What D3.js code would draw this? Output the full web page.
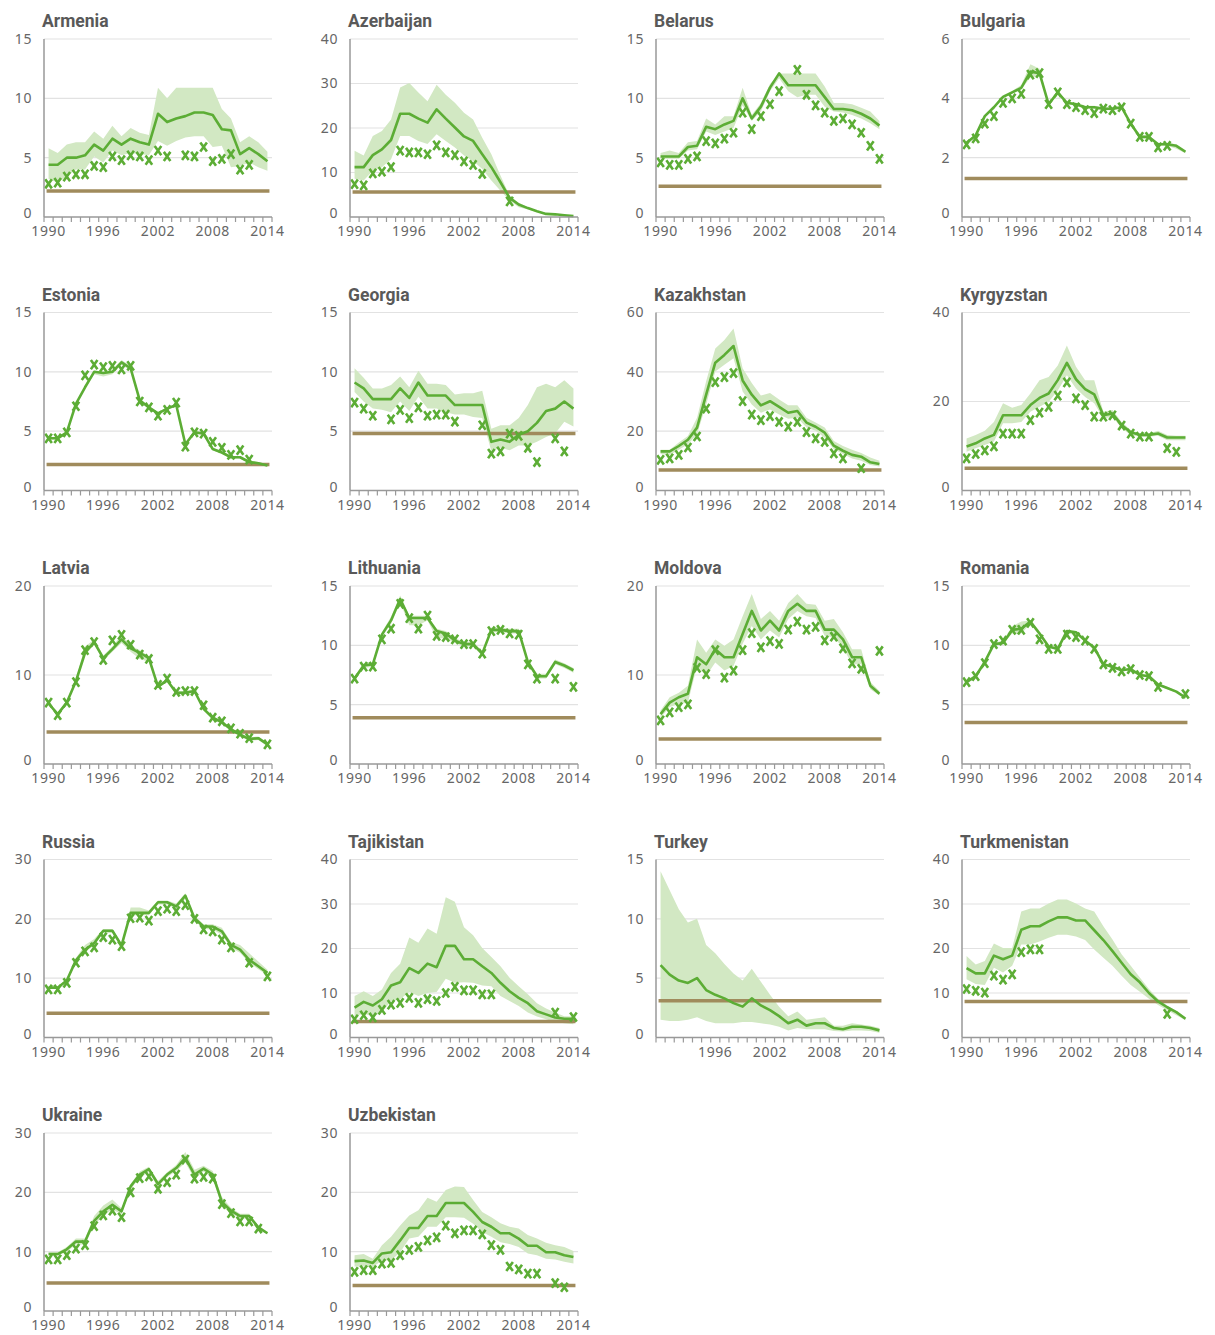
<!DOCTYPE html>
<html lang='en'>
  <head>
    <meta charset='utf-8'>
    <style type='text/css'>
      body {margin: 0; background-color: #fff;}
      #chart {width: 1215px; height: 1335px;}
      .title {font-family: Roboto, 'Noto Sans', sans-serif; font-weight: 700; font-size: 17.5px; fill: #595959;}
      .tick {font-family: 'Noto Sans', sans-serif; font-size: 14px; fill: #666; letter-spacing: 0.6px;}
    </style>
  </head>
  <body>

    <div id='chart'>
      <svg width='1215' height='1335'></svg>
    </div>

    <script src='https://d3js.org/d3.v7.min.js'></script>
    <script type='text/javascript'>
        // years on the x axis, 1990..2014
        var years = [1990,1991,1992,1993,1994,1995,1996,1997,1998,1999,2000,2001,2002,2003,2004,2005,2006,2007,2008,2009,2010,2011,2012,2013,2014];
        var xLabels = [1990, 1996, 2002, 2008, 2014];

        var countries = ["Armenia","Azerbaijan","Belarus","Bulgaria","Estonia","Georgia","Kazakhstan","Kyrgyzstan","Latvia","Lithuania","Moldova","Romania","Russia","Tajikistan","Turkey","Turkmenistan","Ukraine","Uzbekistan"];
        var targets   = [2.2, 5.6, 2.6, 1.3, 2.2, 4.8, 6.9, 5.0, 3.6, 3.9, 2.8, 3.5, 4.1, 3.6, 3.1, 8.1, 4.7, 4.3];
        var yMax      = [15, 40, 15, 6, 15, 15, 60, 40, 20, 15, 20, 15, 30, 40, 15, 40, 30, 30];
        var yStep     = [5, 10, 5, 2, 5, 5, 20, 20, 10, 5, 10, 5, 10, 10, 5, 10, 10, 10];

        // estimate, lower bound, upper bound, reported values
        var armeniaEst = [4.4,4.4,5.0,5.0,5.2,6.1,5.6,6.6,6.1,6.6,6.3,6.1,8.7,8.0,8.3,8.5,8.8,8.8,8.6,7.4,7.3,5.3,5.8,5.3,4.7];
        var armeniaLo  = [3.2,2.9,3.4,4.0,4.0,5.1,4.6,5.6,5.2,5.4,5.3,5.2,6.4,6.0,6.4,6.7,6.8,6.8,5.9,6.0,4.2,4.3,4.6,4.2,3.9];
        var armeniaHi  = [5.8,5.4,6.1,6.3,6.3,7.2,6.6,7.7,6.8,7.5,7.1,6.9,10.9,10.0,10.9,10.9,10.9,10.9,10.9,9.1,8.3,6.3,6.8,6.3,5.5];
        var armeniaObs = [2.8,2.9,3.4,3.6,3.6,4.3,4.2,5.1,4.8,5.2,5.1,4.8,5.6,5.1,null,5.2,5.1,5.9,4.7,4.9,5.3,4.0,4.4,null,null];

        var azerbaijanEst = [11.2,11.2,13.9,15.2,17.3,23.2,23.2,22.1,21.2,24.2,22.1,20.1,18.1,17.1,14.1,11.2,7.8,4.3,2.8,2.0,1.3,0.7,0.6,0.4,0.2];
        var azerbaijanLo  = [8.6,8.2,10.4,11.2,13.0,18.2,18.2,17.1,16.4,18.6,17.1,15.6,13.8,12.6,10.8,8.2,5.9,3.7,2.2,1.7,1.1,0.6,0.4,0.2,0.1];
        var azerbaijanHi  = [14.9,13.8,18.2,19.3,21.9,29.1,30.1,28.0,26.0,29.7,27.5,25.7,23.4,21.9,17.8,14.1,9.3,4.8,3.2,2.2,1.4,0.9,0.7,0.4,0.3];
        var azerbaijanObs = [7.4,7.1,9.8,10.2,11.2,14.9,14.5,14.5,14.1,16.1,14.5,13.9,12.5,11.7,9.7,null,null,3.5,null,null,null,null,null,null,null];

        var belarusEst = [5.1,5.1,5.1,5.9,6.0,7.6,7.4,7.8,8.1,10.0,8.3,9.3,10.9,12.1,11.1,11.1,11.1,11.1,10.1,9.1,9.1,9.0,8.7,8.3,7.7];
        var belarusLo  = [4.9,4.9,4.9,5.6,5.7,7.2,6.9,7.2,7.5,9.4,8.1,8.9,10.6,11.7,10.6,10.1,10.3,10.3,9.3,8.9,8.8,8.6,8.3,7.9,7.4];
        var belarusHi  = [5.4,5.6,5.4,6.3,6.4,8.3,7.8,8.5,8.5,10.9,8.6,9.6,11.2,12.1,12.1,12.1,12.1,12.1,11.0,9.6,9.6,9.5,9.2,8.9,8.1];
        var belarusObs = [4.6,4.4,4.4,4.9,5.1,6.4,6.2,6.6,7.1,8.8,7.4,8.5,9.5,10.6,null,12.4,10.3,9.4,8.8,8.1,8.3,7.8,7.1,6.0,4.9];

        var bulgariaEst = [2.5,2.75,3.4,3.7,4.05,4.2,4.35,4.9,4.85,3.8,4.2,3.85,3.8,3.7,3.7,3.65,3.65,3.7,3.15,2.7,2.7,2.45,2.45,2.4,2.2];
        var bulgariaLo  = [2.45,2.7,3.35,3.65,4.0,4.15,4.3,4.7,4.75,3.75,4.15,3.8,3.75,3.65,3.65,3.6,3.6,3.65,3.1,2.65,2.65,2.4,2.4,2.3,2.15];
        var bulgariaHi  = [2.55,2.8,3.45,3.75,4.1,4.25,4.45,5.15,5.0,3.85,4.25,3.9,3.85,3.75,3.75,3.7,3.7,3.75,3.2,2.75,2.75,2.5,2.5,2.45,2.25];
        var bulgariaObs = [2.45,2.65,3.15,3.4,3.85,4.0,4.15,4.8,4.85,3.8,4.2,3.8,3.7,3.6,3.5,3.65,3.6,3.7,3.15,2.7,2.7,2.35,2.4,null,null];

        var estoniaEst = [4.4,4.4,4.9,7.3,8.7,10.0,9.9,10.0,10.8,10.3,7.6,7.0,6.5,6.9,7.2,3.9,4.9,4.8,3.5,3.2,2.8,2.8,2.4,2.3,2.1];
        var estoniaLo  = [4.3,4.3,4.8,7.2,8.6,9.8,9.6,9.8,10.6,10.1,7.5,6.9,6.4,6.8,7.1,3.8,4.8,4.7,3.4,3.1,2.7,2.7,2.3,2.2,2.0];
        var estoniaHi  = [4.5,4.5,5.0,7.4,8.8,10.1,10.0,10.2,11.0,10.5,7.7,7.1,6.6,7.0,7.3,4.0,5.0,4.9,3.6,3.3,2.9,2.9,2.5,2.4,2.2];
        var estoniaObs = [4.4,4.4,4.9,7.1,9.7,10.6,10.4,10.5,10.2,10.5,7.5,7.0,6.3,6.8,7.4,3.7,4.9,4.8,4.1,3.6,3.0,3.4,2.6,null,null];

        var georgiaEst = [9.1,8.6,7.7,7.7,7.7,8.6,7.8,9.1,8.0,8.0,8.0,7.2,7.2,7.2,7.2,4.1,4.3,4.1,4.7,5.0,5.7,6.7,6.9,7.5,6.9];
        var georgiaLo  = [8.3,7.5,6.9,6.8,6.6,7.5,6.7,7.9,6.9,6.9,6.6,6.4,6.4,6.2,6.1,3.3,3.6,3.4,3.8,3.8,4.1,4.5,4.8,5.8,5.4];
        var georgiaHi  = [10.3,9.5,8.6,8.6,8.9,9.6,8.7,10.1,9.0,9.0,8.9,8.1,8.2,8.2,8.4,5.2,5.5,5.5,6.1,7.2,8.7,9.0,8.7,9.3,8.6];
        var georgiaObs = [7.4,6.9,6.3,null,6.0,6.8,6.1,7.0,6.3,6.4,6.4,5.8,null,null,5.5,3.1,3.3,4.8,4.6,3.6,2.4,null,4.4,3.3,null];

        var kazakhstanEst = [13.2,13.2,15.0,17.1,21.2,32.3,43.1,45.7,48.7,37.1,32.3,28.7,30.1,28.2,26.2,26.8,22.9,21.5,19.5,15.1,13.4,12.0,11.4,9.5,8.9];
        var kazakhstanLo  = [12.3,12.0,13.7,15.6,19.0,29.0,40.1,42.4,44.6,33.4,29.0,26.2,27.3,25.6,24.2,24.5,21.2,20.1,17.8,13.9,12.3,10.8,10.0,8.6,8.1];
        var kazakhstanHi  = [13.7,13.7,16.2,18.4,24.5,36.8,47.9,50.7,54.6,41.2,36.2,32.0,32.9,30.7,28.7,28.7,24.5,22.9,21.2,16.7,15.0,13.7,12.6,11.1,10.0];
        var kazakhstanObs = [10.3,10.8,12.0,14.5,18.2,27.6,36.5,38.2,39.6,30.1,25.6,23.7,25.1,23.1,21.5,23.1,19.7,17.6,16.4,12.5,10.8,null,7.5,null,null];

        var kyrgyzstanEst = [9.9,10.6,11.7,12.5,16.9,16.9,16.9,19.2,20.8,21.8,24.8,28.7,25.0,22.8,21.6,16.9,17.3,14.7,13.1,12.5,12.5,12.8,11.9,11.9,11.9];
        var kyrgyzstanLo  = [8.7,9.5,10.2,11.0,15.1,15.1,15.4,17.7,18.8,19.9,22.5,25.9,22.9,21.0,19.6,16.2,16.6,14.0,12.5,12.1,12.1,12.3,11.3,11.3,11.3];
        var kyrgyzstanHi  = [11.7,12.5,13.4,15.4,19.6,18.6,19.2,21.8,24.8,25.5,28.1,32.6,27.8,24.8,24.8,17.7,18.1,15.4,13.6,12.8,12.8,13.4,12.5,12.3,12.3];
        var kyrgyzstanObs = [7.2,8.2,9.0,9.9,12.8,12.8,12.8,15.8,17.5,18.8,21.3,24.3,20.7,19.2,16.6,16.6,16.9,14.6,12.8,12.1,12.1,null,9.5,8.7,null];

        var latviaEst = [6.8,5.6,6.9,9.3,12.5,13.7,11.9,12.9,14.0,13.0,12.5,11.9,8.7,9.4,8.0,8.0,8.2,6.2,5.2,4.7,3.9,3.3,2.8,2.9,2.2];
        var latviaLo  = [6.6,5.4,6.7,9.1,12.2,13.4,11.6,12.6,13.6,12.6,11.8,11.5,8.5,9.2,7.8,7.8,8.0,6.0,5.0,4.5,3.7,3.1,2.6,2.7,2.0];
        var latviaHi  = [7.0,5.8,7.1,9.5,13.2,14.0,12.2,13.2,14.5,13.3,12.8,12.1,8.9,9.6,8.2,8.2,8.4,6.4,5.4,4.9,4.1,3.5,3.0,3.1,2.4];
        var latviaObs = [6.9,5.5,6.9,9.2,12.8,13.7,11.7,13.9,14.5,13.4,12.3,11.8,8.9,9.6,8.1,8.2,8.2,6.6,5.2,4.8,4.0,3.4,2.9,null,2.2];

        var lithuaniaEst = [7.2,8.3,8.4,10.9,12.1,13.9,12.3,12.3,12.3,11.2,11.0,10.4,10.1,10.1,9.3,11.3,11.3,11.2,11.2,8.6,7.4,7.4,8.6,8.3,7.9];
        var lithuaniaLo  = [7.0,8.1,8.2,10.7,11.8,13.6,11.7,11.7,12.1,10.6,10.6,10.2,9.9,9.9,9.1,11.1,11.1,11.0,11.0,8.4,7.2,7.2,8.4,8.1,7.7];
        var lithuaniaHi  = [7.4,8.5,8.6,11.1,12.4,14.2,12.5,12.5,12.5,11.4,11.2,10.6,10.3,10.3,9.5,11.5,11.5,11.4,11.4,8.8,7.6,7.6,8.8,8.5,8.1];
        var lithuaniaObs = [7.2,8.2,8.2,10.5,11.4,13.5,12.3,11.4,12.5,10.8,10.7,10.5,10.1,10.1,9.3,11.2,11.3,11.0,10.9,8.4,7.2,null,7.2,null,6.5];

        var moldovaEst = [5.6,6.9,7.5,7.9,12.0,11.2,12.9,12.0,12.0,14.6,17.2,15.0,16.1,15.0,17.2,18.0,17.2,17.2,15.1,15.1,14.0,12.0,12.0,8.8,7.9];
        var moldovaLo  = [5.2,6.4,6.7,6.9,11.0,9.9,11.4,10.5,11.0,13.5,15.5,14.0,15.0,14.2,16.3,17.2,16.6,16.4,14.4,14.2,13.1,11.2,11.2,8.4,7.7];
        var moldovaHi  = [6.0,7.5,8.0,8.8,14.0,12.5,14.0,13.3,14.0,16.6,19.1,16.3,17.2,16.1,18.1,19.1,18.0,17.9,16.1,16.3,14.8,12.9,12.9,9.2,8.2];
        var moldovaObs = [4.9,5.8,6.4,6.7,10.8,10.1,12.8,9.7,10.5,12.8,14.7,13.1,13.8,13.5,15.1,16.0,15.1,15.4,13.9,14.3,13.0,11.3,10.7,null,12.7];

        var romaniaEst = [6.9,7.4,8.6,10.1,10.2,11.3,11.4,12.0,11.0,9.9,9.7,11.2,11.1,10.4,9.8,8.4,8.2,7.9,8.0,7.5,7.4,6.7,6.4,6.1,5.6];
        var romaniaLo  = [6.8,7.3,8.5,10.0,10.1,11.0,11.0,11.8,10.8,9.8,9.6,11.0,10.9,10.3,9.7,8.3,8.1,7.8,7.9,7.4,7.3,6.6,6.3,6.0,5.5];
        var romaniaHi  = [7.0,7.5,8.7,10.2,10.4,11.6,12.0,12.1,11.2,10.0,9.8,11.3,11.2,10.5,9.9,8.5,8.3,8.0,8.1,7.6,7.5,6.8,6.5,6.2,5.7];
        var romaniaObs = [6.9,7.4,8.5,10.1,10.4,11.3,11.3,11.9,10.5,9.7,9.7,10.9,10.7,10.4,9.7,8.4,8.1,7.8,8.0,7.5,7.4,6.5,null,null,5.9];

        var russiaEst = [8.4,8.4,9.6,13.0,14.8,15.9,18.0,18.0,15.5,21.0,21.0,21.0,22.8,22.8,22.1,23.9,20.1,18.7,18.7,17.9,15.6,14.8,13.1,12.0,10.9];
        var russiaLo  = [8.2,8.2,9.3,12.6,14.4,15.5,17.6,17.6,15.1,20.6,20.6,20.6,22.4,22.4,21.7,23.4,19.7,18.3,18.2,17.3,15.1,14.3,12.6,11.5,10.5];
        var russiaHi  = [8.6,8.6,9.9,13.4,15.6,16.6,18.3,18.3,15.8,21.9,21.9,21.4,23.1,23.1,22.6,24.3,20.5,19.1,19.1,18.5,16.1,15.6,14.2,12.8,11.4];
        var russiaObs = [8.1,8.1,9.2,12.6,14.5,15.2,16.9,16.5,15.4,20.1,20.2,19.7,21.3,21.7,21.3,22.3,20.0,18.2,17.9,16.5,15.2,null,12.6,null,10.3];

        var tajikistanEst = [6.7,8.0,7.2,8.6,11.7,12.4,15.6,14.5,16.6,15.8,20.6,20.6,17.6,17.6,16.0,14.5,12.3,10.4,8.9,7.7,5.9,5.2,4.5,4.2,4.2];
        var tajikistanLo  = [4.8,5.4,4.7,5.7,8.2,8.6,10.2,9.3,10.0,10.2,13.2,12.3,12.4,12.3,11.7,11.5,9.3,8.2,7.1,5.6,4.7,4.1,3.5,3.2,3.0];
        var tajikistanHi  = [9.3,10.4,9.3,10.8,14.5,16.6,22.5,21.3,24.5,23.3,31.5,30.5,24.8,23.0,20.1,18.1,16.0,13.4,11.5,9.7,7.7,6.5,5.6,4.8,4.7];
        var tajikistanObs = [4.1,5.0,4.5,6.2,7.4,7.8,8.9,7.8,8.6,8.2,10.0,11.4,10.6,10.6,9.7,9.7,null,null,null,null,null,null,5.6,null,4.6];

        var turkeyEst = [6.1,5.3,4.8,4.6,5.0,4.0,3.6,3.3,2.9,2.6,3.3,2.7,2.3,1.8,1.2,1.5,1.0,1.2,1.2,0.8,0.7,0.9,0.9,0.8,0.6];
        var turkeyLo  = [1.5,1.4,1.4,1.5,1.7,1.4,1.2,1.2,1.2,1.3,1.3,1.2,1.1,0.9,0.6,0.8,0.7,0.7,0.7,0.55,0.5,0.6,0.6,0.55,0.4];
        var turkeyHi  = [14.0,12.4,10.8,9.7,10.0,7.8,7.1,6.2,5.4,4.8,5.8,4.7,3.6,2.6,1.8,2.2,1.5,1.6,1.7,1.0,1.0,1.2,1.1,1.0,0.8];
        var turkeyObs = [null,null,null,null,null,null,null,null,null,null,null,null,null,null,null,null,null,null,null,null,null,null,null,null,null];

        var turkmenistanEst = [15.6,14.4,14.4,18.4,17.6,18.4,24.2,25.0,25.0,26.1,27.0,27.0,26.3,26.3,24.1,21.9,19.4,16.8,14.2,12.4,10.0,8.1,6.8,5.7,4.2];
        var turkmenistanLo  = [13.1,12.0,11.8,15.7,14.6,16.1,20.9,20.9,21.6,22.4,23.1,23.1,22.7,21.9,19.8,17.9,16.1,13.9,11.8,10.3,8.7,7.3,6.1,5.0,3.9];
        var turkmenistanHi  = [18.3,16.4,17.2,21.1,20.1,20.1,28.3,29.0,29.0,30.1,31.0,31.0,30.1,29.0,28.3,25.0,22.0,18.7,16.1,13.5,10.9,8.7,7.2,5.9,4.6];
        var turkmenistanObs = [10.9,10.5,10.1,13.9,13.0,14.2,19.2,19.8,19.8,null,null,null,null,null,null,null,null,null,null,null,null,null,5.3,null,null];

        var ukraineEst = [9.6,9.6,10.4,11.7,11.7,15.2,16.8,17.9,16.8,21.0,23.0,23.9,21.4,23.0,24.1,25.8,23.0,24.0,23.0,18.4,16.9,16.0,16.0,14.1,13.1];
        var ukraineLo  = [9.3,9.3,10.0,11.2,11.2,14.5,16.1,17.1,16.3,20.5,22.5,23.4,20.9,22.6,23.6,25.0,22.3,23.5,22.4,17.7,16.4,15.6,15.6,13.8,12.9];
        var ukraineHi  = [9.9,9.9,10.8,12.2,12.2,16.0,17.8,18.8,17.3,21.4,23.5,24.3,21.9,23.4,24.6,26.8,23.8,24.5,23.6,19.2,17.4,16.4,16.4,14.4,13.3];
        var ukraineObs = [8.7,8.7,9.4,10.5,11.1,14.3,16.1,16.9,15.8,20.0,22.4,22.7,20.6,21.7,23.0,25.5,22.3,22.6,22.3,18.0,16.5,15.1,15.1,13.9,null];

        var uzbekistanEst = [8.4,8.5,8.1,9.7,9.9,11.9,14.0,14.0,16.0,16.0,18.2,18.2,18.2,16.7,15.0,14.2,13.1,13.1,12.2,11.0,11.0,9.9,9.9,9.4,9.1];
        var uzbekistanLo  = [7.5,7.5,7.4,8.5,8.5,9.9,12.2,12.5,14.2,14.2,15.8,15.8,15.7,14.7,13.3,12.5,11.6,11.3,10.8,9.7,9.4,8.8,8.7,8.3,8.0];
        var uzbekistanHi  = [9.4,9.6,8.8,11.1,12.5,14.4,16.1,17.0,19.1,18.4,20.4,21.0,20.9,18.7,16.7,15.8,14.8,14.2,13.9,12.8,12.2,11.5,11.1,10.8,10.1];
        var uzbekistanObs = [6.6,6.9,6.9,8.0,8.1,9.4,10.3,10.8,11.9,12.4,14.4,13.1,13.6,13.6,12.9,11.1,10.3,7.5,7.0,6.3,6.3,null,4.7,4.0,null];

        var estimates = [armeniaEst, azerbaijanEst, belarusEst, bulgariaEst, estoniaEst, georgiaEst, kazakhstanEst, kyrgyzstanEst, latviaEst, lithuaniaEst, moldovaEst, romaniaEst, russiaEst, tajikistanEst, turkeyEst, turkmenistanEst, ukraineEst, uzbekistanEst];
        var lowers    = [armeniaLo, azerbaijanLo, belarusLo, bulgariaLo, estoniaLo, georgiaLo, kazakhstanLo, kyrgyzstanLo, latviaLo, lithuaniaLo, moldovaLo, romaniaLo, russiaLo, tajikistanLo, turkeyLo, turkmenistanLo, ukraineLo, uzbekistanLo];
        var uppers    = [armeniaHi, azerbaijanHi, belarusHi, bulgariaHi, estoniaHi, georgiaHi, kazakhstanHi, kyrgyzstanHi, latviaHi, lithuaniaHi, moldovaHi, romaniaHi, russiaHi, tajikistanHi, turkeyHi, turkmenistanHi, ukraineHi, uzbekistanHi];
        var observed  = [armeniaObs, azerbaijanObs, belarusObs, bulgariaObs, estoniaObs, georgiaObs, kazakhstanObs, kyrgyzstanObs, latviaObs, lithuaniaObs, moldovaObs, romaniaObs, russiaObs, tajikistanObs, turkeyObs, turkmenistanObs, ukraineObs, uzbekistanObs];

        // panel grid
        var colX = [44, 350, 656, 962];
        var rowTop = 39, rowStep = 273.5;
        var plotW = 228, plotH = 178;

        var green = "#5cad35", band = "#d2e8c3", brown = "#a08b5c";

        var svg = d3.select("#chart svg");

        countries.forEach(function(name, k) {
            var left = colX[k % 4];
            var top  = rowTop + Math.floor(k / 4) * rowStep;
            var g = svg.append("g").attr("transform", "translate(" + left + "," + top + ")");

            var x = d3.scaleLinear().domain([1989.5, 2014.5]).range([0, plotW]);
            var y = d3.scaleLinear().domain([0, yMax[k]]).range([plotH, 0]);
            var yTicks = d3.range(0, yMax[k] + 0.001, yStep[k]);

            // title
            g.append("text").attr("class", "title")
                .attr("x", -2).attr("y", -12)
                .text(name);

            // grid lines
            g.selectAll(".grid").data(yTicks.filter(function(t) { return t > 0; }))
              .enter().append("line")
                .attr("x1", 0).attr("x2", plotW)
                .attr("y1", function(t) { return y(t); })
                .attr("y2", function(t) { return y(t); })
                .attr("stroke", "#e2e2e2").attr("stroke-width", 1.2);

            // y labels
            g.selectAll(".ylab").data(yTicks)
              .enter().append("text")
                .attr("class", "tick")
                .attr("x", -12)
                .attr("y", function(t) { return y(t); })
                .attr("dy", function(t) { return t === 0 ? "0.1em" : "0.35em"; })
                .attr("text-anchor", "end")
                .text(function(t) { return t; });

            // x axis ticks at year edges
            var edges = d3.range(1989.5, 2015, 1);
            g.selectAll(".xt").data(edges)
              .enter().append("line")
                .attr("x1", function(e) { return x(e); })
                .attr("x2", function(e) { return x(e); })
                .attr("y1", plotH).attr("y2", plotH + 5)
                .attr("stroke", "#999").attr("stroke-width", 1.2);

            var labs = name === "Turkey" ? xLabels.slice(1) : xLabels;
            g.selectAll(".xlab").data(labs)
              .enter().append("text")
                .attr("class", "tick")
                .attr("x", function(d) { return x(d); })
                .attr("y", plotH + 19)
                .attr("text-anchor", "middle")
                .text(function(d) { return d; });

            // uncertainty band
            var rows = years.map(function(yr, i) {
                return {year: yr, est: estimates[k][i], lo: lowers[k][i], hi: uppers[k][i], obs: observed[k][i]};
            });
            g.append("path").datum(rows)
                .attr("fill", band)
                .attr("d", d3.area()
                    .x(function(d) { return x(d.year); })
                    .y0(function(d) { return y(d.lo); })
                    .y1(function(d) { return y(d.hi); }));

            // target line
            g.append("line")
                .attr("x1", x(years[0]) - 2).attr("x2", x(years[years.length - 1]) + 2)
                .attr("y1", y(targets[k])).attr("y2", y(targets[k]))
                .attr("stroke", brown).attr("stroke-width", 3.5);

            // estimate line
            g.append("path").datum(rows)
                .attr("fill", "none")
                .attr("stroke", green).attr("stroke-width", 2.6)
                .attr("stroke-linejoin", "round")
                .attr("d", d3.line()
                    .x(function(d) { return x(d.year); })
                    .y(function(d) { return y(d.est); }));

            // reported values as x marks
            g.selectAll(".obs").data(rows.filter(function(d) { return d.obs !== null; }))
              .enter().append("path")
                .attr("transform", function(d) { return "translate(" + x(d.year) + "," + y(d.obs) + ")"; })
                .attr("d", "M-3.3,-4.6L3.3,4.6M3.3,-4.6L-3.3,4.6")
                .attr("stroke", green).attr("stroke-width", 2.6)
                .attr("fill", "none");

            // axes lines
            g.append("line").attr("x1", 0).attr("x2", 0).attr("y1", 0).attr("y2", plotH)
                .attr("stroke", "#999").attr("stroke-width", 1.5);
            g.append("line").attr("x1", 0).attr("x2", plotW).attr("y1", plotH).attr("y2", plotH)
                .attr("stroke", "#999").attr("stroke-width", 1.5);
        });
    </script>
  </body>
</html>
